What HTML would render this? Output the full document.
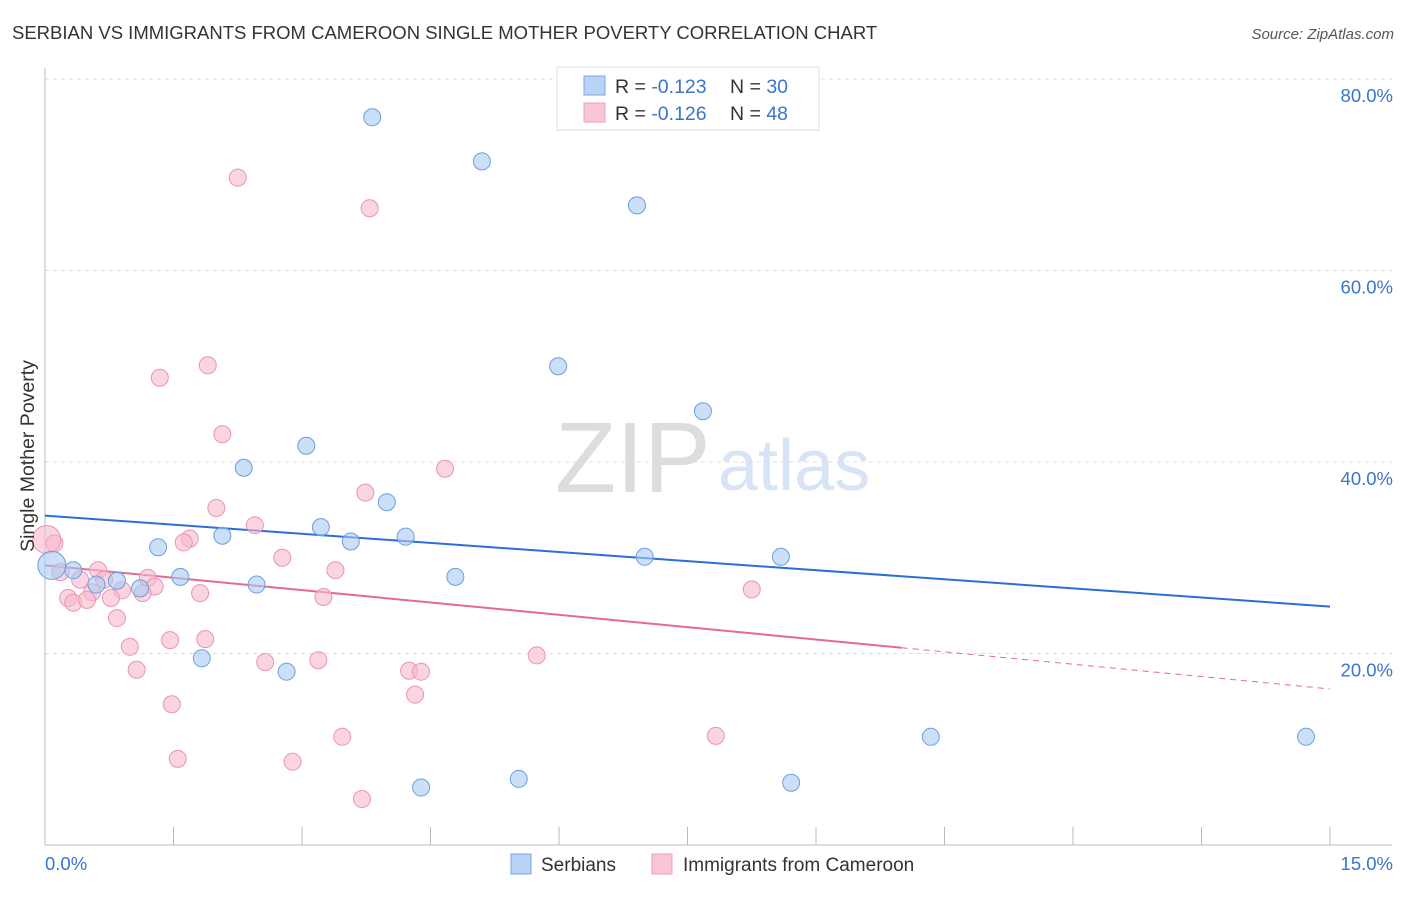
<!DOCTYPE html>
<html><head><meta charset="utf-8"><style>
body{margin:0;background:#fff;font-family:"Liberation Sans",sans-serif;}
svg text{font-family:"Liberation Sans",sans-serif;}
</style></head><body>
<svg id="chart" width="1406" height="892" xmlns="http://www.w3.org/2000/svg">
<text x="12" y="39" font-size="18.5" fill="#333">SERBIAN VS IMMIGRANTS FROM CAMEROON SINGLE MOTHER POVERTY CORRELATION CHART</text>
<text x="1394" y="39" font-size="15" fill="#555" font-style="italic" text-anchor="end">Source: ZipAtlas.com</text>
<text x="555" y="492" font-size="100" fill="#ddd" font-family="Liberation Serif">ZIP</text>
<text x="718" y="490" font-size="72" fill="#d6e4f5">atlas</text>
<g id="grid"></g>
<g id="axes"></g>
<g id="trends"></g>
<g id="points"></g>
<text transform="translate(34,456) rotate(-90)" font-size="19.5" fill="#333" text-anchor="middle">Single Mother Poverty</text>
<g>
<rect x="557" y="67" width="262" height="63" fill="#fff" stroke="#ddd"/>
<rect x="584" y="76" width="21" height="19" fill="#b8d3f5" stroke="#7aa6e3"/>
<rect x="584" y="103" width="21" height="19" fill="#fac6d6" stroke="#ee9fb8"/>
<text x="615" y="93" font-size="19.5" fill="#333">R = <tspan fill="#3a74d0">-0.123</tspan><tspan x="730">N = </tspan><tspan fill="#3a74d0">30</tspan></text>
<text x="615" y="120" font-size="19.5" fill="#333">R = <tspan fill="#3a74d0">-0.126</tspan><tspan x="730">N = </tspan><tspan fill="#3a74d0">48</tspan></text>
</g>
<g>
<rect x="511" y="854" width="20" height="20" fill="#b8d3f5" stroke="#7aa6e3"/>
<text x="541" y="871" font-size="19" fill="#333">Serbians</text>
<rect x="652" y="854" width="20" height="20" fill="#fac6d6" stroke="#ee9fb8"/>
<text x="683" y="871" font-size="19" fill="#333">Immigrants from Cameroon</text>
</g>
</svg>
<script>
const yTicks=[20,40,60,80];
const yTickLabels=["20.0%","40.0%","60.0%","80.0%"];
const xTickLabels=["0.0%","15.0%"];
const blueX=[3.82,5.10,6.91,5.99,7.68,3.05,2.32,3.99,3.22,2.07,3.57,4.21,1.32,7.00,8.59,0.33,1.58,4.79,0.84,0.60,1.11,2.47,1.83,2.82,10.34,14.72,5.53,4.39,8.71,0.08];
const blueY=[76.0,71.4,66.8,50.0,45.3,41.7,39.4,35.8,33.2,32.3,31.7,32.2,31.1,30.1,30.1,28.7,28.0,28.0,27.6,27.2,26.8,27.2,19.5,18.1,11.3,11.3,6.9,6.0,6.5,29.2];
const pinkX=[2.25,3.79,1.90,1.34,2.07,4.67,3.74,2.00,2.45,1.69,1.62,2.77,3.39,0.11,0.02,0.62,0.18,0.41,0.69,1.20,1.28,0.90,1.14,0.55,0.27,0.33,0.49,0.77,1.81,3.25,8.25,0.84,0.99,1.46,1.87,5.74,2.57,3.19,1.07,4.25,4.39,4.32,1.48,3.47,7.83,1.55,2.89,3.70];
const pinkY=[69.7,66.5,50.1,48.8,42.9,39.3,36.8,35.2,33.4,32.0,31.6,30.0,28.7,31.5,31.9,28.7,28.5,27.7,27.7,27.9,27.0,26.6,26.3,26.4,25.8,25.3,25.6,25.8,26.3,25.9,26.7,23.7,20.7,21.4,21.5,19.8,19.1,19.3,18.3,18.2,18.1,15.7,14.7,11.3,11.4,9.0,8.7,4.8];
const blueTrend=[34.4,24.9];
const pinkTrend=[29.2,16.3];
const pinkSolidEnd=10.0;

const X0=45,X1=1330,Y0=845,YP=191.5/20;
const sx=v=>X0+(X1-X0)*v/15;
const sy=v=>Y0-v*YP;
const NS="http://www.w3.org/2000/svg";
function mk(tag,attrs,parent){const e=document.createElementNS(NS,tag);for(const k in attrs)e.setAttribute(k,attrs[k]);document.getElementById(parent).appendChild(e);return e;}

yTicks.forEach((t,i)=>{
  const l=mk('line',{x1:45,x2:1392,y1:sy(t),y2:sy(t),stroke:'#ddd','stroke-dasharray':'4,4'},'grid');
  
  
  const tx=mk('text',{x:1393,y:sy(t)+23,'font-size':18.5,fill:'#3a74d0','text-anchor':'end'},'grid');
  tx.textContent=yTickLabels[i];
  
  
});
const ax=mk('line',{x1:45,x2:1392,y1:Y0,y2:Y0,stroke:'#bbb'},'axes');


const ay=mk('line',{x1:45,x2:45,y1:68,y2:Y0,stroke:'#bbb'},'axes');


for(let i=0;i<=10;i++){
  const t=mk('line',{x1:sx(i*1.5),x2:sx(i*1.5),y1:Y0,y2:Y0-18,stroke:'#bbb'},'axes');
  
  
}
const xl0=mk('text',{x:45,y:870,'font-size':18.5,fill:'#3a74d0'},'axes');
xl0.textContent=xTickLabels[0];


const xl1=mk('text',{x:1393,y:870,'font-size':18.5,fill:'#3a74d0','text-anchor':'end'},'axes');
xl1.textContent=xTickLabels[1];



function drawPts(xs,ys,fill,stroke,name,bigIdx){
  xs.forEach((x,i)=>{
    const r=(i===bigIdx)?14:8.5;
    const c=mk('circle',{cx:sx(x),cy:sy(ys[i]),r:r,fill:fill,'fill-opacity':0.6,stroke:stroke,'stroke-width':1},'points');
    
    
  });
}
drawPts(pinkX,pinkY,'#f7b9cd','#e995b1','cameroon-point',14);
drawPts(blueX,blueY,'#a9c9f2','#6c9fe0','serbian-point',29);

const bl=mk('line',{x1:sx(0),y1:sy(blueTrend[0]),x2:sx(15),y2:sy(blueTrend[1]),stroke:'#2a6fd6','stroke-width':2},'trends');


const pm=pinkTrend[0]+(pinkTrend[1]-pinkTrend[0])*pinkSolidEnd/15;
const pl=mk('line',{x1:sx(0),y1:sy(pinkTrend[0]),x2:sx(pinkSolidEnd),y2:sy(pm),stroke:'#e8679a','stroke-width':2},'trends');


const pd=mk('line',{x1:sx(pinkSolidEnd),y1:sy(pm),x2:sx(15),y2:sy(pinkTrend[1]),stroke:'#e8679a','stroke-width':1,'stroke-dasharray':'6,5'},'trends');


</script>
</body></html>
